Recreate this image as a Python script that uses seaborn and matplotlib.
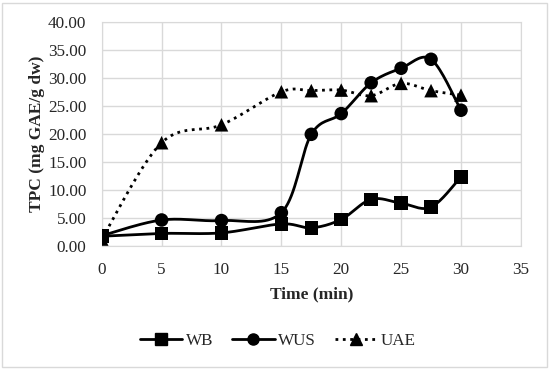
import numpy as np
import pandas as pd
import matplotlib
matplotlib.use("Agg")
import matplotlib.pyplot as plt
from matplotlib.lines import Line2D
from matplotlib.patches import Rectangle
import seaborn as sns

time_min = [0, 5, 10, 15, 17.5, 20, 22.5, 25, 27.5, 30]
wb = [1.7, 2.2, 2.3, 3.9, 3.2, 4.7, 8.3, 7.6, 6.9, 12.3]
wus = [1.8, 4.6, 4.5, 5.9, 19.9, 23.6, 29.1, 31.7, 33.3, 24.2]
uae = [1.2, 18.4, 21.6, 27.5, 27.7, 27.8, 26.8, 29.0, 27.7, 26.9]

series = {"WB": wb, "WUS": wus, "UAE": uae}
markers = {"WB": "s", "WUS": "o", "UAE": "^"}
styles = {"WB": "-", "WUS": "-", "UAE": ":"}


def smooth(x, y, n=20):
    # excel-like smoothed line (catmull-rom drawn as bezier segments)
    x = np.asarray(x, float)
    y = np.asarray(y, float)
    px = np.concatenate([[x[0]], x, [x[-1]]])
    py = np.concatenate([[y[0]], y, [y[-1]]])
    xs, ys = [], []
    t = np.linspace(0, 1, n)
    for i in range(1, len(px) - 2):
        p0 = np.array([px[i], py[i]])
        p3 = np.array([px[i + 1], py[i + 1]])
        c1 = p0 + (p3 - np.array([px[i - 1], py[i - 1]])) / 6
        c2 = p3 - (np.array([px[i + 2], py[i + 2]]) - p0) / 6
        b = ((1 - t) ** 3)[:, None] * p0 + (3 * (1 - t) ** 2 * t)[:, None] * c1 \
            + (3 * (1 - t) * t ** 2)[:, None] * c2 + (t ** 3)[:, None] * p3
        xs.extend(b[:, 0])
        ys.extend(b[:, 1])
    return xs, ys


sns.set_style("white")
plt.rcParams["font.family"] = ["Liberation Serif", "DejaVu Serif"]

fig = plt.figure(figsize=(5.5, 3.69), dpi=100)
ax = fig.add_axes([0.185, 0.334, 0.762, 0.607])

rows = []
for name, vals in series.items():
    for t_, v in zip(time_min, vals):
        rows.append({"time": t_, "tpc": v, "series": name})
df = pd.DataFrame(rows)

for name, vals in series.items():
    sx, sy = smooth(time_min, vals)
    ax.plot(sx, sy, color="black", lw=2, ls=styles[name], zorder=3)

sns.scatterplot(data=df, x="time", y="tpc", style="series", markers=markers,
                color="black", s=95, edgecolor="black", linewidth=0,
                legend=False, ax=ax, zorder=4)

ax.set_xlim(0, 35)
ax.set_ylim(0, 40)
ax.set_xticks(range(0, 36, 5))
ax.set_yticks(range(0, 41, 5))
ax.set_yticklabels([f"{v:.2f}" for v in range(0, 41, 5)])
ax.tick_params(labelsize=12.3, length=0)
ax.tick_params(axis="x", pad=12)
ax.tick_params(axis="y", pad=11)
ax.grid(True, color="#d9d9d9", lw=1)
for sp in ax.spines.values():
    sp.set_color("#d9d9d9")
ax.set_xlabel("Time (min)", fontsize=12.5, fontweight="bold", labelpad=6)
ax.set_ylabel("TPC (mg GAE/g dw)", fontsize=12.5, fontweight="bold", labelpad=2)

handles = [Line2D([], [], color="black", lw=2, ls=styles[n], marker=markers[n],
                  markersize=8) for n in series]
fig.legend(handles, list(series), loc="center", bbox_to_anchor=(0.505, 0.075),
           ncol=3, frameon=False, fontsize=12.3, handlelength=2.5,
           columnspacing=1.1, handletextpad=0.2)

fig.add_artist(Rectangle((0.004, 0.005), 0.99, 0.988, transform=fig.transFigure,
                         fill=False, edgecolor="#d9d9d9", lw=1))

fig.savefig("out.png", dpi=100)
